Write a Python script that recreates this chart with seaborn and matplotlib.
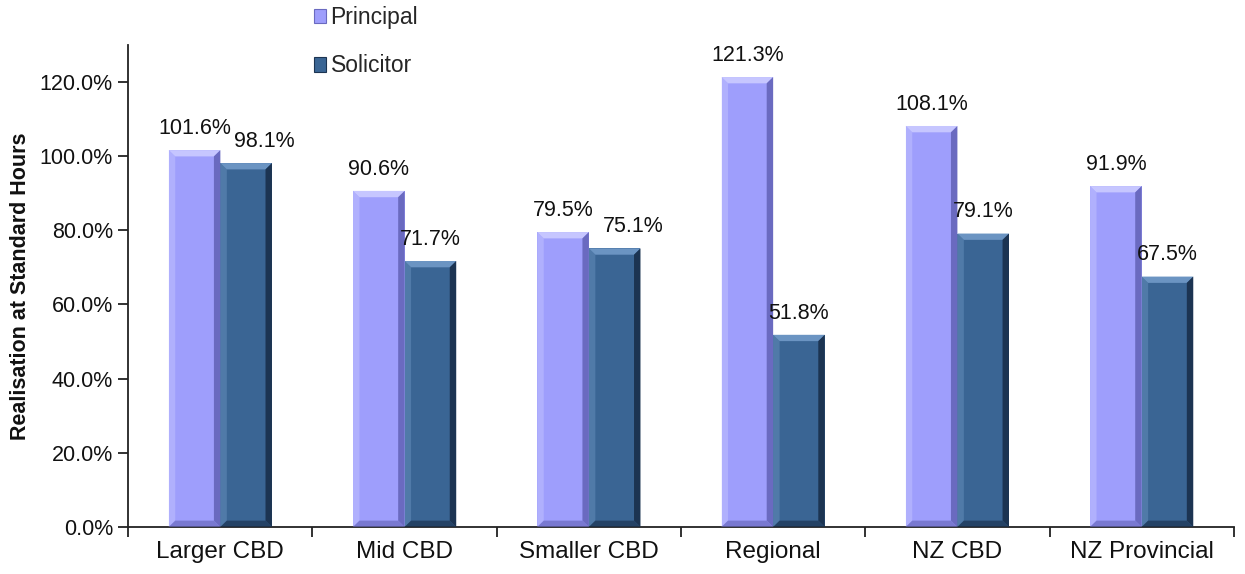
import matplotlib
matplotlib.use("Agg")
import matplotlib.pyplot as plt
from matplotlib.patches import Polygon, Patch
from matplotlib.ticker import FuncFormatter
import pandas as pd
import seaborn as sns

categories = ["Larger CBD", "Mid CBD", "Smaller CBD", "Regional", "NZ CBD", "NZ Provincial"]
principal = [101.6, 90.6, 79.5, 121.3, 108.1, 91.9]
solicitor = [98.1, 71.7, 75.1, 51.8, 79.1, 67.5]
series = ["Principal", "Solicitor"]
y_ticks = [0, 20, 40, 60, 80, 100, 120]

face = {"Principal": "#9e9efc", "Solicitor": "#3a6594"}
light = {"Principal": "#c6c6ff", "Solicitor": "#6b94c2"}
dark = {"Principal": "#6a6ac0", "Solicitor": "#1c3452"}

df = pd.DataFrame({
    "category": categories * 2,
    "series": [series[0]] * len(categories) + [series[1]] * len(categories),
    "value": principal + solicitor,
})

sns.set_theme(style="white")
plt.rcParams["font.family"] = ["Liberation Sans", "DejaVu Sans"]

fig = plt.figure(figsize=(12.45, 5.74), dpi=100)
ax = fig.add_axes([0.103, 0.082, 0.888, 0.840])

sns.barplot(data=df, x="category", y="value", hue="series", order=categories,
            hue_order=series, palette=face, width=0.56, gap=0, saturation=1,
            edgecolor="none", linewidth=0, legend=False, ax=ax)

# bevelled look for each bar: lighter top/left, darker right/bottom edges
bx, by = 0.035, 1.7
for container, name in zip(ax.containers, series):
    values = principal if name == "Principal" else solicitor
    for i, (bar, val) in enumerate(zip(container, values)):
        x0 = bar.get_x()
        w = bar.get_width()
        h = bar.get_height()
        x1 = x0 + w
        top = Polygon([(x0, h), (x1, h), (x1 - bx, h - by), (x0 + bx, h - by)],
                      closed=True, facecolor=light[name], edgecolor="none", zorder=3)
        left = Polygon([(x0, 0), (x0, h), (x0 + bx, h - by), (x0 + bx, by)],
                       closed=True, facecolor=light[name], edgecolor="none",
                       alpha=0.45, zorder=3)
        right = Polygon([(x1, 0), (x1, h), (x1 - bx, h - by), (x1 - bx, by)],
                        closed=True, facecolor=dark[name], edgecolor="none", zorder=3)
        bottom = Polygon([(x0, 0), (x1, 0), (x1 - bx, by), (x0 + bx, by)],
                         closed=True, facecolor=dark[name], edgecolor="none",
                         alpha=0.7, zorder=3)
        for p in (top, left, right, bottom):
            ax.add_patch(p)
        # push the second label aside when both bars are about the same height
        dx = 0.0
        if name == "Solicitor" and abs(principal[i] - solicitor[i]) < 8:
            dx = 0.1
        ax.text(x0 + w / 2 + dx, h + 3.0, f"{val:.1f}%", ha="center", va="bottom",
                fontsize=15.5, color="#111111", zorder=4)

ax.set_ylim(0, 130)
ax.set_xlim(-0.5, len(categories) - 0.5)
ax.set_yticks(y_ticks)
ax.yaxis.set_major_formatter(FuncFormatter(lambda v, _: f"{v:.1f}%"))
ax.set_xlabel("")
ax.set_ylabel("Realisation at Standard Hours", fontsize=15.5, fontweight="bold",
              labelpad=6, color="#111111")

for side in ("top", "right"):
    ax.spines[side].set_visible(False)
for side in ("left", "bottom"):
    ax.spines[side].set_color("#222222")
    ax.spines[side].set_linewidth(1.3)

ax.tick_params(axis="y", which="major", direction="out", length=7, width=1.3,
               color="#222222", labelsize=15.5, labelcolor="#111111", left=True, pad=4)
ax.tick_params(axis="x", which="major", length=0, labelsize=17.5,
               labelcolor="#111111", pad=10)
# tick marks between category groups
ax.set_xticks([i + 0.5 for i in range(-1, len(categories))], minor=True)
ax.tick_params(axis="x", which="minor", direction="out", length=7, width=1.3,
               color="#222222", bottom=True)

handles = [Patch(facecolor=face[s], edgecolor=dark[s], linewidth=0.8) for s in series]
fig.legend(handles, series, loc="upper left", bbox_to_anchor=(0.236, 1.025),
           frameon=False, fontsize=16.5, handlelength=0.5, handleheight=0.6,
           handletextpad=0.2, labelspacing=1.1)

fig.savefig("out.png", dpi=100, facecolor="white")
